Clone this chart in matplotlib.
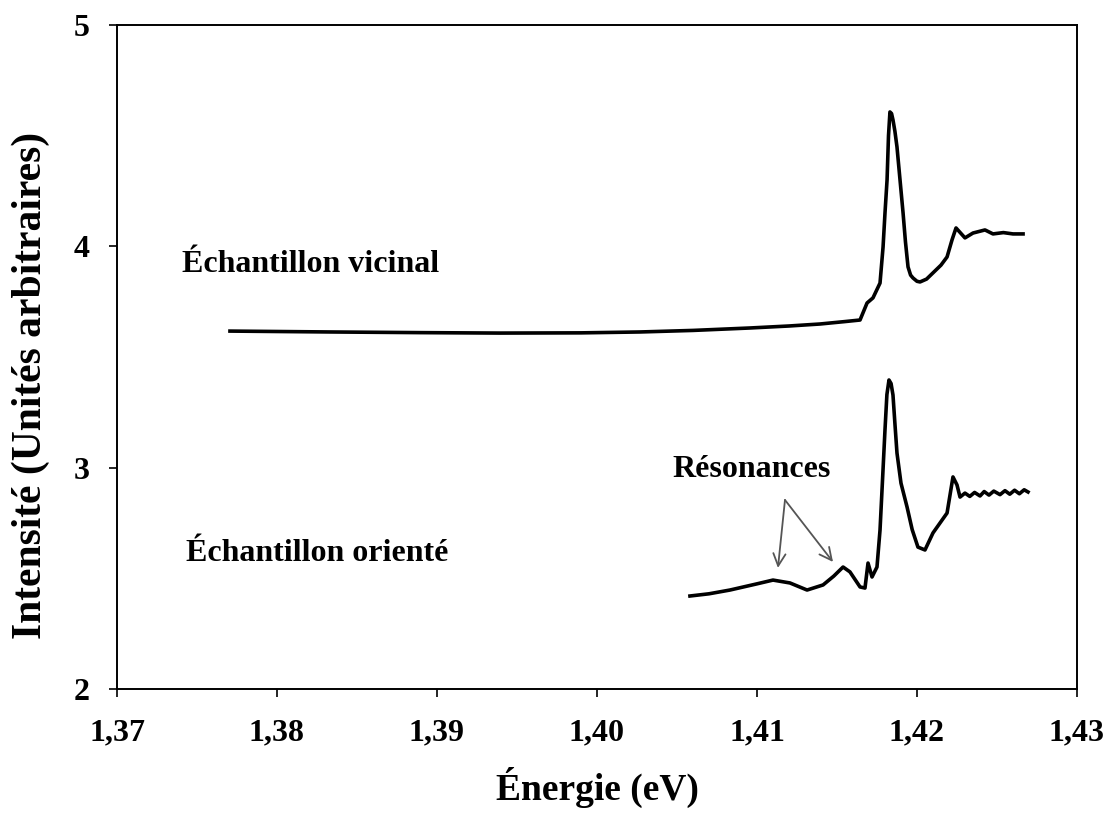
import numpy as np
import matplotlib.pyplot as plt

plt.rcParams['font.family'] = ['Liberation Serif', 'DejaVu Serif']
plt.rcParams['font.weight'] = 'bold'

# Échantillon vicinal (upper curve)
e_vic = [1.37706, 1.38331, 1.38900, 1.39394, 1.39900, 1.40269, 1.40600, 1.40956,
         1.41200, 1.41394, 1.41550, 1.41644, 1.41688, 1.41725, 1.41769, 1.41788,
         1.41800, 1.41813, 1.41822, 1.41831, 1.41841, 1.41850, 1.41862, 1.41875,
         1.41894, 1.41913, 1.41928, 1.41944, 1.41960, 1.41975, 1.42000, 1.42019,
         1.42060, 1.42100, 1.42150, 1.42188, 1.42219, 1.42244, 1.42300, 1.42350,
         1.42425, 1.42475, 1.42540, 1.42600, 1.42663]
i_vic = [3.617, 3.613, 3.610, 3.608, 3.609, 3.613, 3.620, 3.631,
         3.640, 3.649, 3.660, 3.667, 3.744, 3.767, 3.834, 3.997,
         4.150, 4.300, 4.500, 4.607, 4.600, 4.571, 4.520, 4.449,
         4.300, 4.151, 4.020, 3.907, 3.870, 3.857, 3.842, 3.839,
         3.852, 3.880, 3.915, 3.952, 4.029, 4.083, 4.038, 4.060,
         4.074, 4.056, 4.062, 4.056, 4.056]

# Échantillon orienté (lower curve)
e_ori = [1.40581, 1.40700, 1.40831, 1.41000, 1.41100, 1.41206, 1.41313, 1.41413,
         1.41480, 1.41538, 1.41581, 1.41644, 1.41675, 1.41694, 1.41719, 1.41750,
         1.41769, 1.41785, 1.41800, 1.41812, 1.41825, 1.41838, 1.41850, 1.41862,
         1.41875, 1.41900, 1.41938, 1.41970, 1.42006, 1.42050, 1.42100, 1.42188,
         1.42225, 1.42250, 1.42269, 1.42300, 1.42330, 1.42360, 1.42394, 1.42420,
         1.42450, 1.42480, 1.42519, 1.42550, 1.42580, 1.42610, 1.42640, 1.42670,
         1.42694]
i_ori = [2.420, 2.430, 2.447, 2.475, 2.492, 2.479, 2.447, 2.470,
         2.510, 2.551, 2.529, 2.461, 2.456, 2.569, 2.506, 2.551,
         2.718, 2.950, 3.170, 3.330, 3.396, 3.380, 3.328, 3.200,
         3.066, 2.930, 2.822, 2.720, 2.641, 2.628, 2.705, 2.795,
         2.958, 2.922, 2.867, 2.885, 2.870, 2.888, 2.872, 2.892,
         2.876, 2.894, 2.878, 2.896, 2.880, 2.898, 2.882, 2.900,
         2.890]

xticks = [1.37, 1.38, 1.39, 1.40, 1.41, 1.42, 1.43]
xticklabels = ['1,37', '1,38', '1,39', '1,40', '1,41', '1,42', '1,43']
yticks = [2, 3, 4, 5]

fig = plt.figure(figsize=(11.08, 8.14), dpi=100)
ax = fig.add_axes([0.1056, 0.1536, 0.8664, 0.8157])

ax.plot(e_vic, i_vic, color='black', lw=2.6)
ax.plot(e_ori, i_ori, color='black', lw=2.6)

ax.set_xlim(1.37, 1.43)
ax.set_ylim(2, 5)
ax.set_xticks(xticks)
ax.set_xticklabels(xticklabels)
ax.set_yticks(yticks)
ax.tick_params(direction='out', length=6, width=1.2, labelsize=23)
ax.tick_params(axis='x', pad=15)
ax.tick_params(axis='y', pad=14)
for sp in ax.spines.values():
    sp.set_linewidth(1.4)

ax.set_xlabel('Énergie (eV)', fontsize=27, fontweight='bold', labelpad=14)
fig.text(31 / 1108, 1 - 385 / 814, 'Intensité (Unités arbitraires)', fontsize=30,
         fontweight='bold', rotation=90, ha='center', va='center')

ax.text(1.37406, 3.916, 'Échantillon vicinal', fontsize=23, fontweight='bold', va='center')
ax.text(1.37431, 2.614, 'Échantillon orienté', fontsize=23, fontweight='bold', va='center')
ax.text(1.40469, 2.99, 'Résonances', fontsize=23, fontweight='bold', va='center')

arrow = dict(arrowstyle='->', color='#555555', lw=1.3, mutation_scale=22, shrinkA=0, shrinkB=0)
ax.annotate('', xy=(1.41131, 2.547), xytext=(1.41175, 2.854), arrowprops=arrow)
ax.annotate('', xy=(1.41475, 2.574), xytext=(1.41175, 2.854), arrowprops=arrow)

fig.savefig('out.png', dpi=100)
